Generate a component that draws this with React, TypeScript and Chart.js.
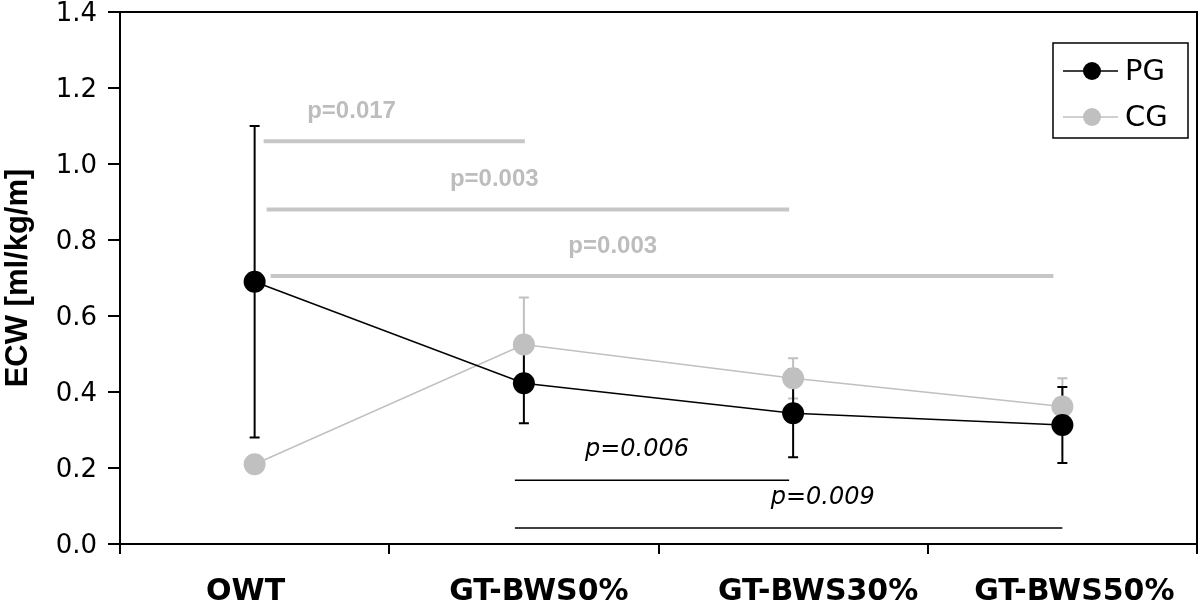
import React, { useEffect, useRef } from 'react';
import { Chart, registerables } from 'chart.js';

Chart.register(...registerables);

// ---- data ----
const categories = ['OWT', 'GT-BWS0%', 'GT-BWS30%', 'GT-BWS50%'];
const pgMean = [0.69, 0.423, 0.344, 0.313];
const pgSD = [0.41, 0.105, 0.116, 0.1];
const cgMean = [0.21, 0.525, 0.436, 0.362];
const cgSD = [0.02, 0.124, 0.053, 0.074];
const yTickLabels = ['0.0', '0.2', '0.4', '0.6', '0.8', '1.0', '1.2', '1.4'];

// significance brackets
const sigLabels = ['p=0.017', 'p=0.003', 'p=0.003', 'p=0.006', 'p=0.009'];
const sigGroup = ['CG', 'CG', 'CG', 'PG', 'PG'];
const sigFrom = [0, 0, 0, 1, 1];
const sigTo = [1, 2, 3, 2, 3];
const sigLevel = [1.06, 0.88, 0.705, 0.168, 0.042];
const sigLabelAt = [0.36, 0.89, 1.33, 1.42, 2.11];

// ---- styles ----
const GREY = '#c0c0c0';
const SIG_GREY = '#c6c6c6';
const insetFrom = [9, 12, 16, -9, -9];
const insetTo = [1, -4, -9, -4, 0];
const xLabelShift = [-9, 15, 25, 12];

const annotPlugin = {
  id: 'annot',
  beforeDatasetsDraw(chart: any) {
    const { ctx, chartArea, scales } = chart;
    const x = scales.x;
    const y = scales.y;
    ctx.save();
    // frame top & right
    ctx.strokeStyle = '#000';
    ctx.lineWidth = 2;
    ctx.beginPath();
    ctx.moveTo(chartArea.left, chartArea.top);
    ctx.lineTo(chartArea.right, chartArea.top);
    ctx.lineTo(chartArea.right, chartArea.bottom);
    ctx.stroke();

    // significance lines and labels
    for (let i = 0; i < sigLabels.length; i++) {
      const isCG = sigGroup[i] === 'CG';
      const x1 = x.getPixelForValue(sigFrom[i]) + insetFrom[i];
      const x2 = x.getPixelForValue(sigTo[i]) + insetTo[i];
      const yp = y.getPixelForValue(sigLevel[i]);
      ctx.strokeStyle = isCG ? SIG_GREY : '#000';
      ctx.lineWidth = isCG ? 4 : 1.5;
      ctx.beginPath();
      ctx.moveTo(x1, yp);
      ctx.lineTo(x2, yp);
      ctx.stroke();
      ctx.fillStyle = isCG ? '#bdbdbd' : '#000';
      ctx.font = isCG ? 'bold 24px "Liberation Sans"' : 'italic 24px "DejaVu Sans"';
      ctx.textAlign = 'center';
      ctx.textBaseline = 'middle';
      ctx.fillText(sigLabels[i], x.getPixelForValue(sigLabelAt[i]), yp - 30);
    }

    // error bars
    const drawBars = (mean: number[], sd: number[], color: string) => {
      ctx.strokeStyle = color;
      ctx.lineWidth = 2;
      for (let i = 0; i < mean.length; i++) {
        const xp = x.getPixelForValue(i);
        const yt = y.getPixelForValue(mean[i] + sd[i]);
        const yb = y.getPixelForValue(mean[i] - sd[i]);
        ctx.beginPath();
        ctx.moveTo(xp, yt);
        ctx.lineTo(xp, yb);
        ctx.moveTo(xp - 5, yt);
        ctx.lineTo(xp + 5, yt);
        ctx.moveTo(xp - 5, yb);
        ctx.lineTo(xp + 5, yb);
        ctx.stroke();
      }
    };
    drawBars(cgMean, cgSD, GREY);
    drawBars(pgMean, pgSD, '#000');
    ctx.restore();
  },
  afterDraw(chart: any) {
    const { ctx, chartArea, scales } = chart;
    const x = scales.x;
    ctx.save();
    // category labels
    ctx.fillStyle = '#000';
    ctx.font = 'bold 30px "DejaVu Sans"';
    ctx.textAlign = 'center';
    ctx.textBaseline = 'alphabetic';
    categories.forEach((c, i) => {
      ctx.fillText(c, x.getPixelForValue(i) + xLabelShift[i], chartArea.bottom + 56);
    });

    // legend
    const bx = chartArea.right - 144;
    const by = chartArea.top + 31;
    const bw = 135;
    const bh = 95;
    ctx.fillStyle = '#fff';
    ctx.fillRect(bx, by, bw, bh);
    ctx.strokeStyle = '#000';
    ctx.lineWidth = 1.5;
    ctx.strokeRect(bx, by, bw, bh);
    const items = [
      { label: 'PG', color: '#000', yy: by + 28 },
      { label: 'CG', color: GREY, yy: by + 74 },
    ];
    for (const it of items) {
      ctx.strokeStyle = it.color;
      ctx.lineWidth = 1.5;
      ctx.beginPath();
      ctx.moveTo(bx + 10, it.yy);
      ctx.lineTo(bx + 65, it.yy);
      ctx.stroke();
      ctx.fillStyle = it.color;
      ctx.beginPath();
      ctx.arc(bx + 39, it.yy, 9, 0, Math.PI * 2);
      ctx.fill();
      ctx.fillStyle = '#000';
      ctx.font = '29px "DejaVu Sans"';
      ctx.textAlign = 'left';
      ctx.textBaseline = 'middle';
      ctx.fillText(it.label, bx + 72, it.yy + 1);
    }
    ctx.restore();
  },
};

export default function App() {
  const ref = useRef<HTMLCanvasElement>(null);
  useEffect(() => {
    document.body.style.margin = '0';
    const canvas = ref.current!;
    const chart = new Chart(canvas, {
      type: 'line',
      data: {
        labels: categories,
        datasets: [
          {
            label: 'PG',
            data: pgMean,
            borderColor: '#000',
            backgroundColor: '#000',
            pointBackgroundColor: '#000',
            pointBorderColor: '#000',
            pointBorderWidth: 0,
            pointRadius: 11,
            borderWidth: 1.5,
            tension: 0,
          },
          {
            label: 'CG',
            data: cgMean,
            borderColor: GREY,
            backgroundColor: GREY,
            pointBackgroundColor: GREY,
            pointBorderColor: GREY,
            pointBorderWidth: 0,
            pointRadius: 11,
            borderWidth: 1.5,
            tension: 0,
          },
        ],
      },
      options: {
        responsive: false,
        animation: false,
        layout: { autoPadding: false, padding: { top: 12, right: 3, left: 0, bottom: 0 } },
        plugins: { legend: { display: false }, tooltip: { enabled: false } },
        scales: {
          x: {
            type: 'category',
            offset: true,
            grid: {
              offset: true,
              drawOnChartArea: false,
              drawTicks: true,
              tickLength: 10,
              color: '#000',
              lineWidth: 2,
            },
            border: { display: true, color: '#000', width: 2 },
            ticks: { display: false },
            afterFit: (s: any) => {
              s.height = 60;
              s.paddingLeft = 0;
              s.paddingRight = 0;
            },
          },
          y: {
            min: 0,
            max: 1.4,
            ticks: {
              stepSize: 0.2,
              callback: (_v: any, i: number) => yTickLabels[i],
              color: '#000',
              font: { family: 'DejaVu Sans', size: 26 },
              padding: 11,
              labelOffset: 2,
            },
            grid: {
              drawOnChartArea: false,
              drawTicks: true,
              tickLength: 12,
              color: '#000',
              lineWidth: 2,
            },
            border: { display: true, color: '#000', width: 2 },
            title: {
              display: true,
              text: 'ECW [ml/kg/m]',
              color: '#000',
              font: { family: 'Liberation Sans', weight: 'bold', size: 31 },
              padding: 0,
            },
            afterFit: (s: any) => {
              s.width = 120;
              s.paddingTop = 0;
              s.paddingBottom = 0;
            },
          },
        },
      },
      plugins: [annotPlugin],
    } as any);
    return () => chart.destroy();
  }, []);
  return <canvas ref={ref} width={1200} height={604} style={{ display: 'block' }} />;
}
